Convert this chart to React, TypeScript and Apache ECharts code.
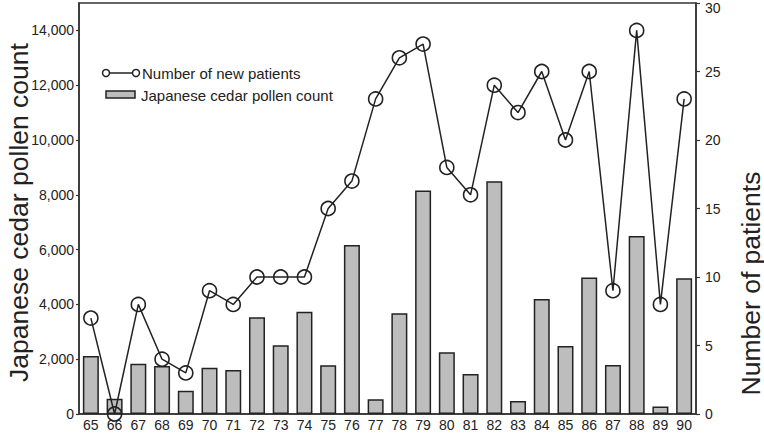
import React, { useEffect, useRef } from "react";
import * as echarts from "echarts";

const years = ["65","66","67","68","69","70","71","72","73","74","75","76","77","78","79","80","81","82","83","84","85","86","87","88","89","90"];
const pollen = [2120, 560, 1830, 1750, 850, 1690, 1610, 3530, 2510, 3730, 1780, 6170, 540, 3680, 8160, 2250, 1460, 8490, 470, 4200, 2480, 4980, 1790, 6500, 270, 4950];
const patients = [7, 0, 8, 4, 3, 9, 8, 10, 10, 10, 15, 17, 23, 26, 27, 18, 16, 24, 22, 25, 20, 25, 9, 28, 8, 23];
const leftTitle = "Japanese cedar pollen count";
const rightTitle = "Number of patients";
const legendLine = "Number of new patients";
const legendBar = "Japanese cedar pollen count";

const FONT = "'Liberation Sans', Arial, sans-serif";
const INK = "#222";

export default function App() {
  const ref = useRef<HTMLDivElement>(null);
  useEffect(() => {
    if (!ref.current) return;
    const chart = echarts.init(ref.current, undefined, { renderer: "svg" });
    chart.setOption({
      animation: false,
      textStyle: { fontFamily: FONT },
      grid: {
        left: 79, right: 68, top: 3, bottom: 21,
        outerBoundsMode: "none",
        containLabel: false,
        show: true, borderColor: "#333", borderWidth: 1.5, backgroundColor: "transparent",
      },
      xAxis: {
        type: "category",
        data: years,
        boundaryGap: true,
        axisLine: { lineStyle: { color: "#333", width: 1.5 } },
        axisTick: { show: false },
        axisLabel: { color: INK, fontSize: 14, margin: 4, fontFamily: FONT, interval: 0 },
      },
      yAxis: [
        {
          type: "value",
          min: 0, max: 15000, interval: 2000,
          name: leftTitle,
          nameLocation: "middle",
          nameRotate: 90,
          nameGap: 47,
          nameMoveOverlap: false,
          nameTextStyle: { fontSize: 26.5, color: INK, fontFamily: FONT, padding: [0, 8, 0, 0] },
          axisLine: { show: true, lineStyle: { color: "#333", width: 1.5 } },
          axisTick: { show: true, length: 3, lineStyle: { color: "#333", width: 1.2 } },
          splitLine: { show: false },
          axisLabel: {
            color: INK, fontSize: 14, margin: 5, fontFamily: FONT, showMaxLabel: false,
            formatter: (v: number) => (v > 14000 ? "" : v.toLocaleString("en-US")),
          },
        },
        {
          type: "value",
          min: 0, max: 30, interval: 5,
          name: rightTitle,
          nameLocation: "middle",
          nameRotate: 90,
          nameGap: 41,
          nameMoveOverlap: false,
          nameTextStyle: { fontSize: 26.5, color: INK, fontFamily: FONT, padding: [0, 150, 0, 0] },
          axisLine: { show: true, lineStyle: { color: "#333", width: 1.5 } },
          axisTick: { show: true, length: 4, lineStyle: { color: "#333", width: 1.2 } },
          splitLine: { show: false },
          axisLabel: {
            color: INK, fontSize: 14, margin: 9, fontFamily: FONT,
            formatter: (v: number) => (v === 30 ? "{top|30}" : String(v)),
            rich: { top: { fontSize: 14, color: INK, fontFamily: FONT, padding: [10, 0, 0, 0] } },
          },
        },
      ],
      series: [
        {
          name: legendBar,
          type: "bar",
          yAxisIndex: 0,
          data: pollen,
          barWidth: 16,
          itemStyle: { color: "#bdbdbd", borderColor: INK, borderWidth: 1.5 },
        },
        {
          name: legendLine,
          type: "line",
          yAxisIndex: 1,
          data: patients,
          symbol: "circle",
          symbolSize: 14,
          lineStyle: { color: INK, width: 1.5 },
          itemStyle: { color: "transparent", borderColor: INK, borderWidth: 1.6 },
          z: 5,
        },
      ],
      graphic: [
        { type: "line", shape: { x1: 110, y1: 73, x2: 132, y2: 73 }, style: { stroke: INK, lineWidth: 1.5 } },
        { type: "circle", shape: { cx: 106, cy: 73, r: 3.5 }, style: { fill: "#fff", stroke: INK, lineWidth: 1.5 } },
        { type: "circle", shape: { cx: 136, cy: 73, r: 3.5 }, style: { fill: "#fff", stroke: INK, lineWidth: 1.5 } },
        { type: "text", x: 142, y: 73, style: { text: legendLine, fontSize: 15, fill: INK, font: `15px ${FONT}`, verticalAlign: "middle" } },
        { type: "rect", shape: { x: 106, y: 91, width: 29, height: 7 }, style: { fill: "#bdbdbd", stroke: INK, lineWidth: 1.5 } },
        { type: "text", x: 141, y: 95, style: { text: legendBar, fontSize: 15, fill: INK, font: `15px ${FONT}`, verticalAlign: "middle" } },
      ],
    });
    return () => chart.dispose();
  }, []);
  return <div ref={ref} style={{ width: 764, height: 435, position: "absolute", left: 0, top: 0 }} />;
}
